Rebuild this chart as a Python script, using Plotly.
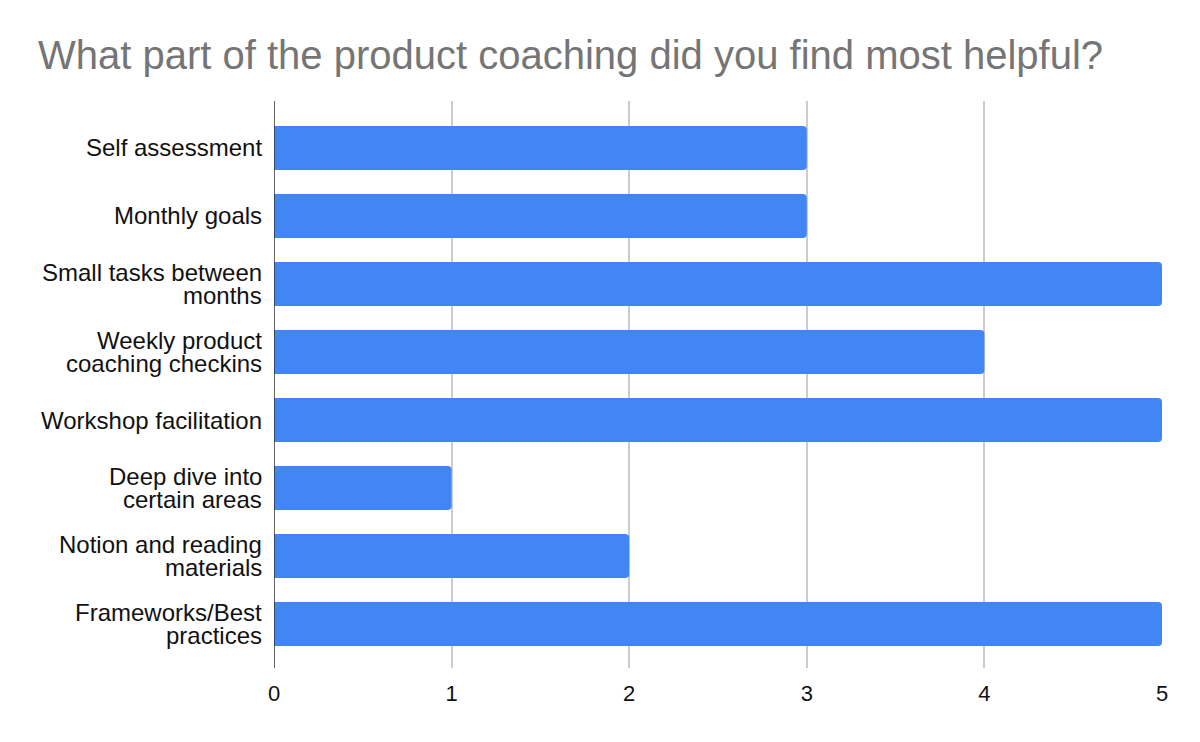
import plotly.graph_objects as go

categories = [
    "Self assessment",
    "Monthly goals",
    "Small tasks between<br>months",
    "Weekly product<br>coaching checkins",
    "Workshop facilitation",
    "Deep dive into<br>certain areas",
    "Notion and reading<br>materials",
    "Frameworks/Best<br>practices",
]
values = [3, 3, 5, 4, 5, 1, 2, 5]
x_ticks = [0, 1, 2, 3, 4, 5]

FONT = "Liberation Sans, Arial, sans-serif"

fig = go.Figure(
    go.Bar(
        x=values,
        y=list(range(len(categories))),
        orientation="h",
        marker=dict(color="#4285F4", line=dict(width=0)),
        width=0.647,
        hoverinfo="x",
    )
)

# category labels as separate text lines (tight line spacing like the reference)
annotations = []
for i, lab in enumerate(categories):
    lines = lab.split("<br>")
    n = len(lines)
    for j, ln in enumerate(lines):
        shift = (j - (n - 1) / 2) * 23
        annotations.append(dict(
            text=ln, x=0, xref="paper", y=i, yref="y",
            xanchor="right", yanchor="middle", xshift=-10, yshift=-shift,
            showarrow=False, font=dict(family=FONT, size=24, color="#111111"),
        ))

fig.update_layout(
    width=1200, height=742,
    margin=dict(l=274, r=38, t=101, b=74),
    paper_bgcolor="white", plot_bgcolor="white",
    barcornerradius=4,
    title=dict(
        text="What part of the product coaching did you find most helpful?",
        x=38 / 1200, xanchor="left", xref="container",
        y=1 - 55 / 742, yanchor="middle", yref="container",
        font=dict(family=FONT, size=40, color="#757575"),
    ),
    xaxis=dict(
        range=[0, 5], tickvals=x_ticks, ticktext=[str(t) for t in x_ticks],
        showgrid=True, gridcolor="#cccccc", gridwidth=1.5,
        zeroline=False, showline=False, ticks="",
        tickfont=dict(family=FONT, size=22, color="#111111"),
        ticklabelstandoff=10,
    ),
    yaxis=dict(
        range=[7.647, -0.691], showticklabels=False, showgrid=False,
        zeroline=False, showline=False, ticks="",
    ),
    shapes=[dict(type="line", xref="x", yref="paper", x0=0, x1=0, y0=0, y1=1,
                 line=dict(color="#333333", width=1.5), layer="above")],
    annotations=annotations,
    showlegend=False,
)

fig.write_html(
    "out.html",
    config={"displayModeBar": False},
    post_script="document.body.style.margin='0';document.body.style.overflow='hidden';",
)
